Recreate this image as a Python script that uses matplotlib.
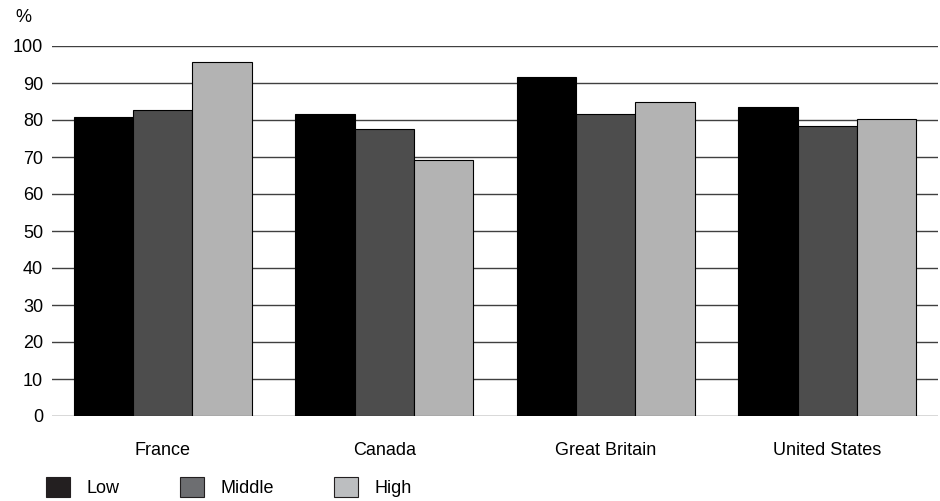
import matplotlib
matplotlib.use("Agg")
import matplotlib.pyplot as plt
import numpy as np
from matplotlib.patches import Patch

plt.rcParams['font.family'] = ['Liberation Sans', 'DejaVu Sans']

categories = ["France", "Canada", "Great Britain", "United States"]
series = ["Low", "Middle", "High"]
low = [80.8, 81.7, 91.7, 83.6]
middle = [82.7, 77.6, 81.7, 78.5]
high = [95.6, 69.3, 84.9, 80.4]
yticks = [0, 10, 20, 30, 40, 50, 60, 70, 80, 90, 100]

bar_colors = ["#000000", "#4d4d4d", "#b3b3b3"]
legend_colors = ["#231f20", "#6d6e71", "#bcbec0"]

fig = plt.figure(figsize=(9.4, 5.01), dpi=100)
ax = fig.add_axes([52/940, 1-416/501, 886/940, 370/501])

x = np.arange(len(categories))
w = 0.268
for i, (vals, c) in enumerate(zip([low, middle, high], bar_colors)):
    ax.bar(x + (i-1)*w, vals, width=w, color=c, edgecolor="black", linewidth=0.8, zorder=3)

ax.set_xlim(-0.5, 3.5)
ax.set_ylim(0, 100)
ax.set_yticks(yticks)
ax.set_yticklabels([str(t) for t in yticks], fontsize=13)
ax.set_xticks(x)
ax.set_xticklabels(categories, fontsize=13)
for t in yticks:
    ax.axhline(t, color="#404040", linewidth=1.0, zorder=1)
for s in ax.spines.values():
    s.set_visible(False)
ax.tick_params(axis='y', length=0, pad=6.5)
ax.tick_params(axis='x', length=0, pad=18.5)

fig.text(15/940, 1-18/501, "%", fontsize=13, va="center", ha="left")

handles = [Patch(facecolor=c, edgecolor="#231f20", linewidth=0.8) for c in legend_colors]
fig.legend(handles, series, loc="lower left", bbox_to_anchor=(46/940, 4/501),
           ncol=3, frameon=False, fontsize=13, borderpad=0, borderaxespad=0,
           handlelength=1.33, handleheight=1.33, handletextpad=0.94, columnspacing=3.3)

fig.savefig("out.png", dpi=100)
